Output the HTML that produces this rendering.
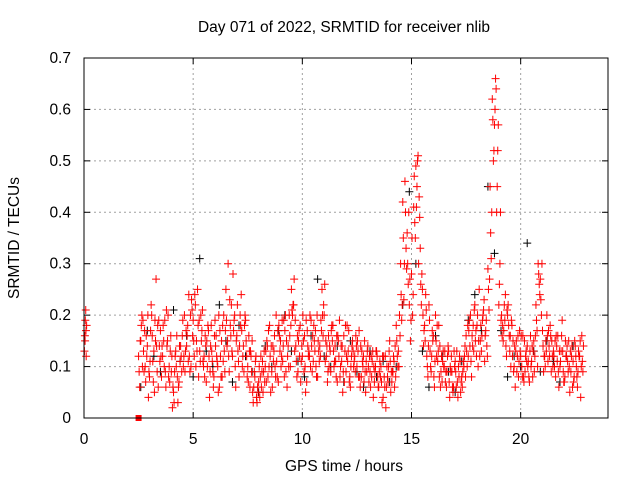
<!DOCTYPE html>
<html><head><meta charset="utf-8"><style>
html,body{margin:0;padding:0;background:#fff}
svg text{font-family:"Liberation Sans",sans-serif;font-size:15.5px;fill:#000}
</style></head><body>
<svg id="chart" width="640" height="480" xmlns="http://www.w3.org/2000/svg">
<text x="344" y="32" text-anchor="middle">Day 071 of 2022, SRMTID for receiver nlib</text>
<text x="344" y="471" text-anchor="middle">GPS time / hours</text>
<text x="19" y="238" text-anchor="middle" transform="rotate(-90 19 238)">SRMTID / TECUs</text>
<g id="grid"></g><g id="marks"></g><g id="axes"></g>
</svg>
<script>
const xTicks=[0,5,10,15,20];
const yTicks=[0,0.1,0.2,0.3,0.4,0.5,0.6,0.7];
const yTickLabels=["0","0.1","0.2","0.3","0.4","0.5","0.6","0.7"];
const startHour=2.5, stepHour=0.1;
const redA=[.12,.15,.19,.1,.14,.08,.2,.13,.27,.06,.17,.12,.19,.14,.1,.09,.05,.13,.03,.11,.16,.2,.14,.24,.1,.19,.22,.25,.13,.17,.12,.07,.17,.14,.09,.19,.11,.06,.15,.2,.25,.3,.18,.12,.2,.16,.08,.24,.14,.19,.1,.06,.15,.09,.04,.07,.12,.05,.1,.14,.18,.09,.13,.2,.07,.15,.11,.17,.06,.2,.25,.22,.14,.09,.18,.12,.16,.07,.13,.19,.11,.17,.08,.14,.25,.2,.12,.16,.09,.18,.14,.07,.19,.11,.16,.09,.13,.06,.15,.12,.1,.17,.08,.12,.05,.14,.09,.11,.07,.13,.06,.1,.04,.12,.08,.15,.07,.11,.18,.13,.3,.42,.46,.36,.22,.28,.41,.49,.51,.33,.25,.18,.12,.22,.09,.16,.2,.11,.14,.07,.1,.06,.13,.09,.05,.11,.07,.12,.08,.1,.16,.12,.2,.14,.22,.18,.25,.13,.21,.17,.29,.45,.62,.57,.4,.22,.19,.15,.24,.2,.13,.18,.1,.15,.08,.12,.16,.09,.14,.07,.11,.15,.22,.3,.27,.17,.12,.2,.14,.09,.13,.08,.16,.1,.19,.07,.12,.15,.09,.11,.14,.06,.12,.16];
const redB=[.06,.2,.09,.16,.04,.17,.11,.19,.09,.14,.08,.15,.06,.2,.13,.02,.09,.16,.07,.12,.1,.13,.18,.09,.21,.12,.15,.08,.2,.11,.16,.1,.04,.13,.08,.16,.05,.12,.18,.09,.14,.09,.22,.17,.06,.13,.2,.1,.18,.12,.16,.12,.03,.11,.06,.04,.09,.13,.07,.17,.05,.14,.1,.08,.16,.12,.19,.09,.14,.1,.2,.13,.08,.17,.11,.15,.05,.14,.2,.09,.15,.08,.13,.19,.16,.11,.07,.14,.18,.1,.08,.15,.1,.05,.13,.18,.07,.12,.1,.16,.13,.06,.11,.15,.09,.07,.12,.04,.1,.08,.11,.03,.08,.06,.1,.05,.09,.14,.12,.2,.19,.23,.33,.26,.15,.2,.38,.45,.43,.22,.14,.24,.08,.13,.17,.06,.12,.18,.09,.13,.07,.12,.04,.09,.13,.06,.1,.05,.09,.14,.1,.19,.08,.13,.17,.1,.15,.19,.11,.14,.21,.31,.5,.66,.52,.3,.16,.22,.12,.18,.1,.15,.06,.12,.17,.1,.07,.13,.11,.16,.08,.12,.17,.26,.2,.09,.15,.11,.18,.12,.1,.14,.06,.13,.09,.15,.11,.05,.14,.08,.1,.13,.04,.09];
const redC=[.09,.18,.13,.07,.2,.11,.16,.05,.14,.19,.12,.18,.09,.15,.07,.12,.03,.1,.06,.14,.19,.09,.16,.12,.23,.15,.1,.18,.11,.21,.08,.15,.12,.18,.06,.14,.1,.17,.08,.13,.19,.12,.16,.28,.1,.22,.14,.17,.09,.15,.07,.13,.05,.08,.03,.1,.06,.09,.13,.08,.12,.06,.16,.11,.18,.1,.14,.2,.12,.16,.21,.27,.11,.15,.07,.2,.1,.17,.12,.14,.18,.1,.15,.12,.2,.26,.14,.1,.17,.13,.11,.16,.08,.14,.07,.12,.17,.1,.13,.09,.15,.08,.13,.07,.11,.1,.06,.13,.09,.12,.09,.07,.12,.02,.07,.11,.09,.06,.15,.1,.24,.35,.4,.3,.27,.35,.47,.41,.3,.26,.2,.15,.1,.19,.12,.08,.15,.13,.06,.11,.13,.09,.07,.12,.06,.09,.04,.11,.06,.12,.13,.17,.11,.18,.15,.2,.12,.16,.23,.19,.25,.36,.58,.6,.45,.26,.2,.17,.14,.22,.16,.12,.14,.09,.11,.16,.08,.12,.1,.13,.14,.09,.19,.28,.23,.14,.1,.16,.12,.15,.12,.16,.09,.11,.13,.08,.14,.1,.12,.07,.12,.09,.15,.11];
const redD=[.15,.1,.17,.12,.09,.22,.07,.15,.18,.11,.14,.1,.21,.08,.16,.06,.12,.08,.14,.09,.12,.17,.11,.2,.16,.24,.13,.19,.15,.1,.14,.18,.09,.11,.16,.12,.2,.08,.11,.17,.15,.23,.13,.19,.15,.11,.18,.12,.2,.08,.13,.09,.06,.12,.05,.08,.11,.07,.15,.1,.14,.11,.08,.17,.13,.19,.08,.15,.1,.18,.22,.19,.16,.12,.14,.09,.19,.12,.1,.16,.13,.2,.11,.17,.22,.15,.09,.13,.15,.11,.16,.12,.14,.09,.18,.11,.08,.14,.11,.14,.08,.14,.1,.09,.13,.12,.08,.1,.13,.06,.08,.12,.06,.1,.13,.09,.12,.08,.1,.16,.22,.3,.29,.4,.19,.24,.35,.5,.39,.28,.17,.21,.14,.1,.15,.11,.18,.08,.12,.1,.09,.14,.1,.06,.1,.13,.08,.07,.11,.08,.18,.14,.16,.21,.12,.15,.18,.2,.16,.12,.27,.4,.52,.64,.57,.4,.18,.19,.21,.16,.19,.09,.13,.16,.13,.08,.15,.11,.08,.1,.13,.16,.1,.24,.3,.12,.13,.17,.16,.1,.15,.11,.13,.16,.07,.12,.09,.13,.06,.15,.08,.12,.1,.14];
const blackStart=2.6, blackStep=0.3;
const black=[.06,.17,.12,.09,.14,.21,.11,.16,.08,.31,.13,.1,.22,.15,.07,.18,.12,.09,.05,.14,.1,.17,.2,.13,.11,.08,.16,.27,.12,.1,.14,.07,.15,.09,.06,.13,.08,.11,.07,.1,.22,.44,.3,.13,.06,.16,.12,.09,.05,.11,.19,.24,.17,.45,.32,.17,.08,.12,.1,.34,.13,.09,.15,.11,.07,.12,.14];
const earlyTimes=[0.02,0.04,0.06,0.08,0.1,0.12,0.05,0.09];
const earlyVals=[0.13,0.16,0.19,0.21,0.12,0.18,0.15,0.17];
const squareTime=2.5, squareVal=0;

const X0=84,X1=608,Y0=418,Y1=58;
const xs=t=>X0+t/24*(X1-X0);
const ys=v=>Y0-v/0.7*(Y0-Y1);
const NS="http://www.w3.org/2000/svg";
function mk(tag,attrs,parent){const e=document.createElementNS(NS,tag);for(const k in attrs)e.setAttribute(k,attrs[k]);parent.appendChild(e);return e;}
const grid=document.getElementById('grid'),marks=document.getElementById('marks'),axes=document.getElementById('axes');
xTicks.forEach(t=>{const x=xs(t);
 if(t>0){const g=mk('line',{x1:x,x2:x,y1:Y1,y2:Y0,stroke:'#a0a0a0','stroke-dasharray':'2,3'},grid);
 }
 const l=mk('text',{x:x,y:444,'text-anchor':'middle'},axes);l.textContent=t;
 
 mk('line',{x1:x,x2:x,y1:Y0,y2:Y0-6,stroke:'#000'},axes);mk('line',{x1:x,x2:x,y1:Y1,y2:Y1+6,stroke:'#000'},axes);});
yTicks.forEach((v,i)=>{const y=ys(v);
 if(v>0&&v<0.7){const g=mk('line',{x1:X0,x2:X1,y1:y,y2:y,stroke:'#a0a0a0','stroke-dasharray':'2,3'},grid);
 }
 const l=mk('text',{x:71,y:y+5,'text-anchor':'end'},axes);l.textContent=yTickLabels[i];
 
 mk('line',{x1:X0,x2:X0+6,y1:y,y2:y,stroke:'#000'},axes);mk('line',{x1:X1,x2:X1-6,y1:y,y2:y,stroke:'#000'},axes);});
const frame=mk('rect',{x:X0,y:Y1,width:X1-X0,height:Y0-Y1,fill:'none',stroke:'#000'},axes);

function plus(t,v,c){const x=xs(t),y=ys(v);
 const p=mk('path',{d:`M${x-4},${y}h8M${x},${y-4}v8`,stroke:c,'stroke-width':1,fill:'none'},marks);
 }
black.forEach((v,i)=>{const t=blackStart+i*blackStep;if(t<=22.8)plus(t,v,'#000');});
redA.forEach((v,i)=>plus(startHour+i*stepHour,v,'#f00'));
redB.forEach((v,i)=>plus(startHour+0.05+i*stepHour,v,'#f00'));
redC.forEach((v,i)=>plus(startHour+0.025+i*stepHour,v,'#f00'));
redD.forEach((v,i)=>plus(startHour+0.075+i*stepHour,v,'#f00'));
earlyVals.forEach((v,i)=>plus(earlyTimes[i],v,'#f00'));
const sq=mk('rect',{x:xs(squareTime)-3,y:ys(squareVal)-3,width:6,height:6,fill:'#f00'},marks);

</script>
</body></html>
